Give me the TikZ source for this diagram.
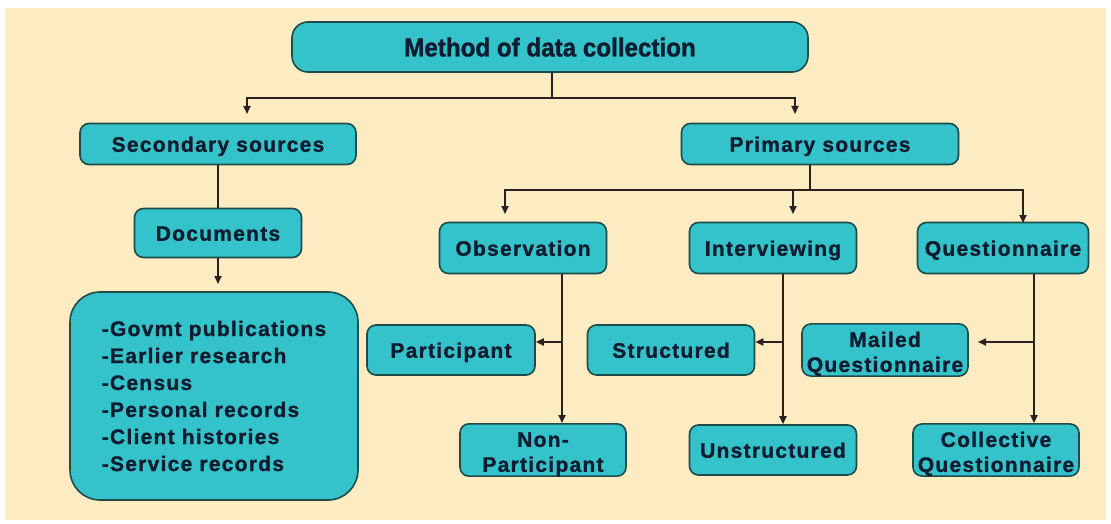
\documentclass[tikz,border=0pt]{standalone}
\usepackage{fontspec}
\setmainfont{Liberation Sans}
\newfontfamily\boxfont[LetterSpace=6,FakeBold=1.2]{Liberation Sans}
\newfontfamily\titlefont[FakeStretch=0.93,FakeBold=1.2]{Liberation Sans}
\usetikzlibrary{arrows.meta}
\definecolor{bgcream}{HTML}{FDEBC2}
\definecolor{boxfill}{HTML}{35C3CB}
\definecolor{boxline}{HTML}{1E4A4A}
\definecolor{txt}{HTML}{0E1C30}
\definecolor{lineclr}{HTML}{2A2020}
\newcommand{\firststrut}{\rule{0pt}{23pt}}
\tikzset{
  box/.style={draw=boxline, fill=boxfill, line width=1.6pt, rounded corners=9pt,
    inner sep=0pt, align=center, text=txt, text height=20pt, text depth=4.5pt,
    font=\boxfont\bfseries\fontsize{21}{21}\selectfont},
  twoline/.style={text height=, text depth=,
    font=\boxfont\bfseries\fontsize{21}{25}\selectfont},
  conn/.style={draw=lineclr, line width=1.8pt},
  arr/.style={conn, -{Triangle[length=8pt,width=7pt]}},
}
\begin{document}
\begin{tikzpicture}[x=1pt,y=-1pt]
\useasboundingbox (0,0) rectangle (1111,524);
\fill[white] (0,0) rectangle (1111,524);
\fill[bgcream] (5,8) rectangle (1106,520);

% nodes
\node[box, rounded corners=16pt, minimum width=516pt, minimum height=50pt, text height=20pt, text depth=1pt,
  font=\titlefont\bfseries\fontsize{26}{26}\selectfont] (top) at (550,47) {Method of data collection};
\node[box, minimum width=276pt, minimum height=41pt] (sec) at (218,144) {Secondary sources};
\node[box, minimum width=277pt, minimum height=41pt] (pri) at (820,144) {Primary sources};
\node[box, minimum width=167pt, minimum height=49pt] (doc) at (218,233) {Documents};
\node[box, rounded corners=30pt, minimum width=288pt, minimum height=208pt, align=left,
  text height=, text depth=,
  font=\boxfont\bfseries\fontsize{21}{27}\selectfont] (list) at (214,396)
  {-Govmt publications\\-Earlier research\\-Census\\-Personal records\\-Client histories\\-Service records};
\node[box, minimum width=167pt, minimum height=51pt] (obs) at (523,248) {Observation};
\node[box, minimum width=167pt, minimum height=51pt] (int) at (773,248) {Interviewing};
\node[box, minimum width=171pt, minimum height=51pt] (que) at (1003,248) {Questionnaire};
\node[box, minimum width=168pt, minimum height=50pt] (part) at (451,350) {Participant};
\node[box, minimum width=167pt, minimum height=50pt] (str) at (671,350) {Structured};
\node[box, twoline, minimum width=166pt, minimum height=50pt] (mail) at (885,350) {\firststrut Mailed\\Questionnaire};
\node[box, twoline, minimum width=166pt, minimum height=50pt] (nonp) at (543,450) {\firststrut Non-\\Participant};
\node[box, minimum width=167pt, minimum height=50pt] (uns) at (773,450) {Unstructured};
\node[box, twoline, minimum width=166pt, minimum height=50pt] (coll) at (996,450) {\firststrut Collective\\Questionnaire};

% junction coordinates
\coordinate (tj) at (552,98);
\coordinate (a1) at (247,114);
\coordinate (a2) at (795,114);
\coordinate (a3) at (218,284);
\coordinate (pj) at (810,190);
\coordinate (a4) at (505,214);
\coordinate (a5) at (793,214);
\coordinate (a6) at (1023,223);
\coordinate (oj) at (562,342);
\coordinate (ij) at (783,342);
\coordinate (qj) at (1034,342);
\coordinate (a7) at (978,342);

% connectors
\draw[conn] (top.south -| tj) -- (tj);
\draw[arr] (tj) -| (a1);
\draw[arr] (tj) -| (a2);
\draw[conn] (sec.south) -- (doc.north);
\draw[arr] (doc.south) -- (a3);
\draw[conn] (pri.south -| pj) -- (pj);
\draw[arr] (pj) -| (a4);
\draw[arr] (pj) -| (a5);
\draw[arr] (pj) -| (a6);
\draw[arr] (obs.south -| oj) -- (oj |- nonp.north);
\draw[arr] (oj) -- (oj -| part.east);
\draw[arr] (int.south -| ij) -- (ij |- uns.north);
\draw[arr] (ij) -- (ij -| str.east);
\draw[arr] (que.south -| qj) -- (qj |- coll.north);
\draw[arr] (qj) -- (a7);
\end{tikzpicture}
\end{document}
